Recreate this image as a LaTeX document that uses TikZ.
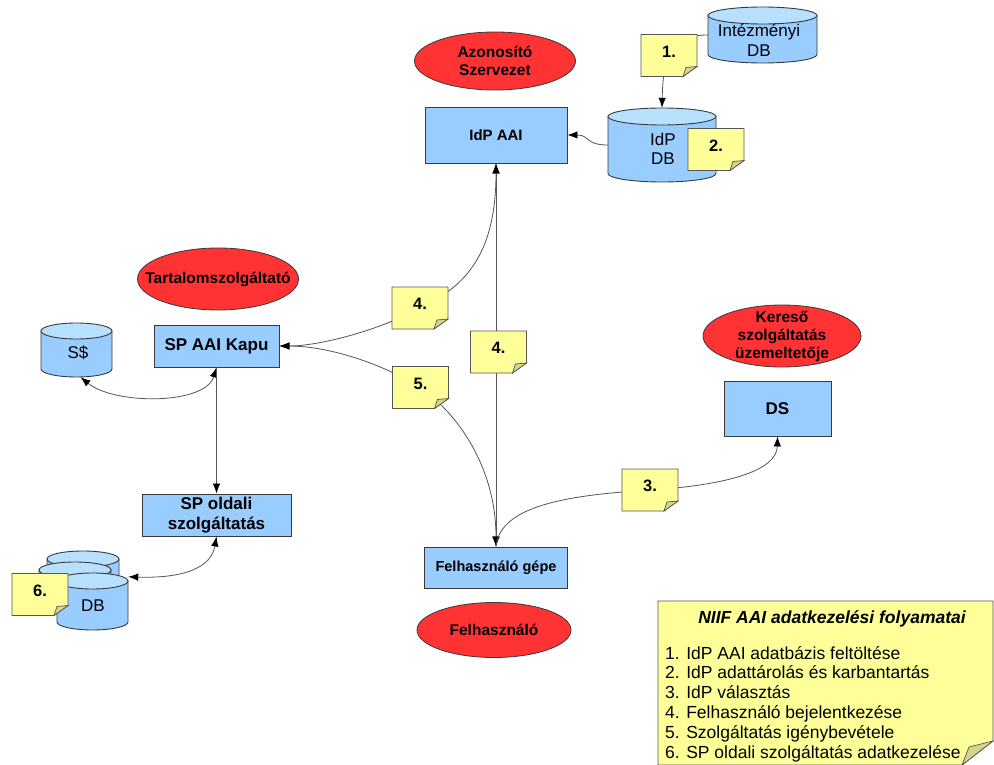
\documentclass[tikz,border=0pt]{standalone}
\usepackage{fontspec}
\setmainfont{Liberation Sans}
\usetikzlibrary{arrows.meta,shapes.geometric}
\definecolor{boxblue}{HTML}{99CCFF}
\definecolor{cyltopc}{HTML}{B8E0FF}
\definecolor{redell}{HTML}{FF3333}
\definecolor{noteyel}{HTML}{FFFF99}
\definecolor{noteflap}{HTML}{D6D68A}
\definecolor{edgec}{HTML}{3A3A3A}
\definecolor{wire}{HTML}{555555}
\tikzset{
  box/.style={draw=edgec, fill=boxblue, line width=0.9pt, inner sep=0pt, align=center},
  orgshape/.style={ellipse, draw=edgec, fill=redell, line width=0.8pt, inner sep=0pt},
  orgtext/.style={inner sep=0pt, align=center, font=\bfseries\fontsize{15.5}{18}\selectfont},
  conn/.style={draw=wire, line width=0.8pt},
  tipa/.tip={Latex[length=10pt,width=7.5pt,color=black]},
  cylb/.style={draw=edgec, fill=boxblue, line width=0.9pt},
  cylt/.style={draw=edgec, fill=cyltopc, line width=0.9pt},
  cyltext/.style={inner sep=0pt, align=center, font=\fontsize{17}{19.5}\selectfont},
  notes/.style={draw=wire, fill=noteyel, line width=0.8pt},
  flaps/.style={draw=wire, fill=noteflap, line width=0.7pt},
  notetext/.style={inner sep=0pt, font=\bfseries\fontsize{16.5}{18}\selectfont},
  legtext/.style={inner sep=0pt, anchor=base west, font=\fontsize{17.5}{20}\selectfont},
}
\newcommand\orgnode[6]{%
  \node[orgshape, minimum width=#4pt, minimum height=#5pt] (#1) at (#2,#3) {};
  \node[orgtext] (#1-t) at (#2,#3) {#6};
}
\newcommand\dbcyl[6]{% name, x1, x2, top edge, bottom edge, ry
  \pgfmathsetmacro\cxa{(#2+#3)/2}%
  \pgfmathsetmacro\cra{(#3-#2)/2}%
  \pgfmathsetmacro\cyt{#4+#6}%
  \pgfmathsetmacro\cyb{#5-#6}%
  \pgfmathsetmacro\cym{(#4+#5)/2}%
  \pgfmathsetmacro\cw{#3-#2}%
  \pgfmathsetmacro\ch{#5-#4}%
  \filldraw[cylb] (#2,\cyt) -- (#2,\cyb) arc[start angle=180,end angle=360,x radius=\cra pt,y radius=#6pt] -- (#3,\cyt) -- cycle;
  \filldraw[cylt] (\cxa,\cyt) ellipse[x radius=\cra pt,y radius=#6pt];
  \node[inner sep=0pt, minimum width=\cw pt, minimum height=\ch pt] (#1) at (\cxa,\cym) {};
}
\newcommand\stickynote[4]{% name, cx, cy, label
  \filldraw[notes] (#2-28,#3-21) -- (#2+28,#3-21) -- (#2+28,#3+11) -- (#2+14,#3+21) -- (#2-28,#3+21) -- cycle;
  \filldraw[flaps] (#2+28,#3+11) -- (#2+17,#3+12) -- (#2+14,#3+21) -- cycle;
  \node[inner sep=0pt, minimum width=56pt, minimum height=42pt] (#1) at (#2,#3) {};
  \node[notetext] (#1-t) at (#2,#3-4) {#4};
}
\begin{document}
\begin{tikzpicture}[x=1pt,y=-1pt]
\useasboundingbox (0,0) rectangle (994,765);
\fill[white] (0,0) rectangle (994,765);

% organisations
\orgnode{azon}{495}{61}{161}{58}{Azonosító\\Szervezet}
\orgnode{tart}{218}{279}{161}{62}{Tartalomszolgáltató}
\orgnode{keres}{782}{336}{158}{62}{Kereső\\szolgáltatás\\üzemeltetője}
\orgnode{felh}{494}{630}{154}{55}{Felhasználó}

% boxes
\node[box, minimum width=142pt, minimum height=56pt, font=\bfseries\fontsize{15}{18}\selectfont] (idpaai) at (496,135) {IdP AAI};
\node[box, minimum width=125pt, minimum height=42pt, font=\bfseries\fontsize{17}{20}\selectfont] (spkapu) at (216.5,346) {SP AAI Kapu};
\node[box, minimum width=149pt, minimum height=42pt, font=\bfseries\fontsize{17}{20}\selectfont] (spold) at (216.5,515) {SP oldali\\szolgáltatás};
\node[box, minimum width=107pt, minimum height=55pt, font=\bfseries\fontsize{17}{20}\selectfont] (ds) at (777.5,408.5) {DS};
\node[box, minimum width=143pt, minimum height=41pt, font=\bfseries\fontsize{14.5}{18}\selectfont] (gepe) at (496,567.5) {Felhasználó gépe};

% databases
\dbcyl{idb}{708}{817}{7}{63}{8.5}
\node[cyltext] (idb-t) at (759,40) {Intézményi\\DB};
\dbcyl{idpdb}{608}{716}{108}{182}{8.5}
\node[cyltext] (idpdb-t) at (663,149) {IdP\\DB};
\dbcyl{sdb}{41}{112}{323}{377}{8}
\node[cyltext] (sdb-t) at (78,353) {S\$};
\dbcyl{dbback}{47}{119}{551}{600}{8}
\dbcyl{dbmid}{39}{111}{562}{605}{8}
\dbcyl{dbf}{57}{128}{573}{630}{8}
\node[cyltext] (dbf-t) at (93,606) {DB};

% connectors
\draw[conn,-tipa] (idb.west) .. controls (669,35) and (663,60) .. (idpdb.north);
\draw[conn,-tipa] (idpdb.west) .. controls (585,145) and (590,135) .. (idpaai.east);
\draw[conn,tipa-tipa] (idpaai.south) .. controls (496,258) and (462,288) .. (420,308) .. controls (380,330) and (320,346) .. (spkapu.east);
\draw[conn,tipa-tipa] (idpaai.south) -- (gepe.north);
\draw[conn,tipa-tipa] (spkapu.east) .. controls (330,346) and (385,365) .. (420,387.5) .. controls (460,415) and (496,470) .. (gepe.north);
\draw[conn,-tipa] (gepe.north) .. controls (500,505) and (570,495) .. (650,490) .. controls (730,485) and (777,470) .. (ds.south);
\draw[conn,tipa-tipa] (spkapu.south) .. controls (205,405) and (115,405) .. ([xshift=4pt]sdb.south);
\draw[conn,-tipa] (spkapu.south) -- (spold.north);
\draw[conn,tipa-tipa] (spold.south) .. controls (210,575) and (165,578) .. ([yshift=-4pt]dbf.north east);

% sticky notes
\stickynote{n1}{669}{55.5}{1.}
\stickynote{n2}{716}{149.5}{2.}
\stickynote{n4a}{420}{308}{4.}
\stickynote{n4b}{498.5}{352}{4.}
\stickynote{n5}{420.5}{387.5}{5.}
\stickynote{n3}{650}{490}{3.}
\stickynote{n6}{40}{594.5}{6.}

% legend
\filldraw[notes] (658,601) -- (993,601) -- (993,741) -- (962,765) -- (658,765) -- cycle;
\filldraw[flaps] (993,741) -- (969,747) -- (962,765) -- cycle;
\node[inner sep=0pt, font=\bfseries\itshape\fontsize{17.5}{20}\selectfont, anchor=base] (legt) at (832,623) {NIIF AAI adatkezelési folyamatai};
\node[legtext] (l1) at (665,659) {1. IdP AAI adatbázis feltöltése};
\node[legtext] (l2) at (665,678.8) {2. IdP adattárolás és karbantartás};
\node[legtext] (l3) at (665,698.6) {3. IdP választás};
\node[legtext] (l4) at (665,718.4) {4. Felhasználó bejelentkezése};
\node[legtext] (l5) at (665,738.2) {5. Szolgáltatás igénybevétele};
\node[legtext] (l6) at (665,758) {6. SP oldali szolgáltatás adatkezelése};
\end{tikzpicture}
\end{document}
